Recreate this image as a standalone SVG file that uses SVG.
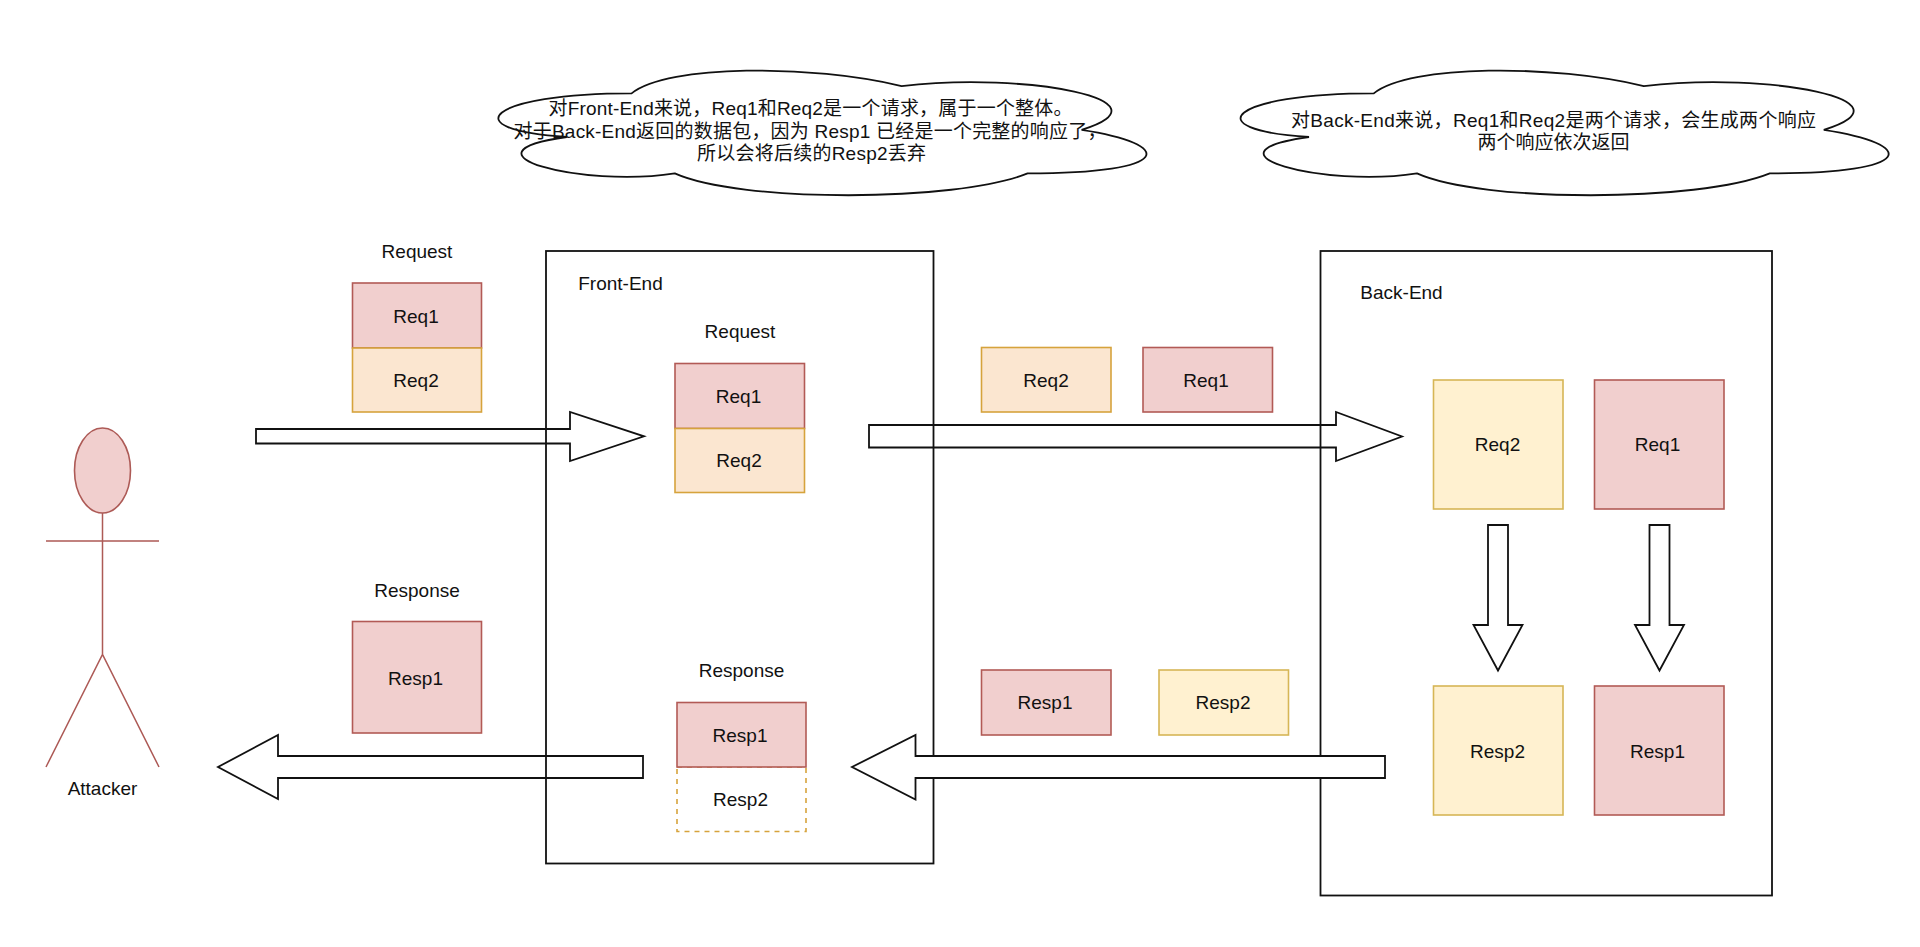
<svg xmlns="http://www.w3.org/2000/svg" width="1920" height="947" viewBox="0 0 1920 947">
<style>
text{font-family:"Liberation Sans","Noto Sans CJK SC",sans-serif;font-size:19px;fill:#111;text-anchor:middle}
.box{fill:none;stroke:#111;stroke-width:1.8}
.cloud{fill:#fff;stroke:#111;stroke-width:1.8}
.red{fill:#f1cfce;stroke:#b25a56;stroke-width:1.6}
.org{fill:#fbe6d0;stroke:#d6a33c;stroke-width:1.6}
.yel{fill:#fff1d0;stroke:#d6b656;stroke-width:1.6}
.dash{fill:#fff;stroke:#d6a33c;stroke-width:1.6;stroke-dasharray:5 5}
.ar{fill:none;stroke:#111;stroke-width:1.8}
.arw{fill:#fff;stroke:#111;stroke-width:1.8}
.act{fill:none;stroke:#ad5a56;stroke-width:1.5}
</style>
<rect width="1920" height="947" fill="#fff"/>
<g id="cloud-front">
<path class="cloud" d="M631.6 93.4C487.6 93.4 451.6 129.8 566.8 137C451.6 153 581.2 188 674.8 173.4C739.6 202.5 955.6 202.5 1027.6 173.4C1175.6 173.4 1175.6 144.3 1081.6 129.8C1176 100.6 1027.6 71.6 901.6 86.1C811.6 64.3 667.6 64.3 631.6 93.4Z"/>
<text x="810.5" y="115" textLength="524" lengthAdjust="spacing">对Front-End来说，Req1和Req2是一个请求，属于一个整体。</text>
<text x="810" y="137.5" textLength="593" lengthAdjust="spacing">对于Back-End返回的数据包，因为 Resp1 已经是一个完整的响应了，</text>
<text x="811.5" y="160" textLength="229" lengthAdjust="spacing">所以会将后续的Resp2丢弃</text>
</g>
<g id="cloud-back">
<path class="cloud" d="M1373.8 93.4C1229.8 93.4 1193.8 129.8 1309 137C1193.8 153 1323.4 188 1417 173.4C1481.8 202.5 1697.8 202.5 1769.8 173.4C1917.8 173.4 1917.8 144.3 1823.8 129.8C1918.2 100.6 1769.8 71.6 1643.8 86.1C1553.8 64.3 1409.8 64.3 1373.8 93.4Z"/>
<text x="1553.5" y="126.5" textLength="525" lengthAdjust="spacing">对Back-End来说，Req1和Req2是两个请求，会生成两个响应</text>
<text x="1553.5" y="148.5">两个响应依次返回</text>
</g>
<g id="attacker">
<ellipse cx="102.5" cy="470.5" rx="28" ry="42.5" fill="#f1cfce" stroke="#ad5a56" stroke-width="1.6"/>
<path class="act" d="M102.5 513V654.5M46 541H159M46 767L102.5 654.5L159 767"/>
<text x="102.5" y="795">Attacker</text>
</g>
<g id="request-left">
<text x="417" y="258">Request</text>
<rect class="red" x="352.5" y="283" width="129" height="65"/>
<text x="416" y="322.5">Req1</text>
<rect class="org" x="352.5" y="348" width="129" height="64"/>
<text x="416" y="387">Req2</text>
</g>
<g id="response-left">
<text x="417" y="597">Response</text>
<rect class="red" x="352.5" y="621.5" width="129" height="111.5"/>
<text x="415.5" y="685">Resp1</text>
</g>
<g id="front-end">
<rect class="box" x="546" y="251" width="387.5" height="612.5"/>
<text x="620.5" y="289.5">Front-End</text>
<text x="740" y="338">Request</text>
<rect class="red" x="675" y="363.5" width="129.5" height="65"/>
<text x="738.5" y="402.5">Req1</text>
<rect class="org" x="675" y="428.5" width="129.5" height="64"/>
<text x="739" y="466.5">Req2</text>
<text x="741.5" y="676.5">Response</text>
<rect class="dash" x="677" y="767" width="129" height="64.5"/>
<rect class="red" x="677" y="702.5" width="129" height="64.5"/>
<text x="740" y="741.5">Resp1</text>
<text x="740.5" y="806">Resp2</text>
</g>
<g id="in-transit">
<rect class="org" x="981.5" y="347.5" width="129.5" height="64.5"/>
<text x="1046" y="386.5">Req2</text>
<rect class="red" x="1143" y="347.5" width="129.5" height="64.5"/>
<text x="1206" y="386.5">Req1</text>
<rect class="red" x="981.5" y="670" width="129.5" height="65"/>
<text x="1045" y="709">Resp1</text>
<rect class="yel" x="1159" y="670" width="129.5" height="65"/>
<text x="1223" y="709">Resp2</text>
</g>
<g id="back-end">
<rect class="box" x="1320.5" y="251" width="451.5" height="644.5"/>
<text x="1401.5" y="298.5">Back-End</text>
<rect class="yel" x="1433.5" y="380" width="129.5" height="129"/>
<text x="1497.5" y="451">Req2</text>
<rect class="red" x="1594.5" y="380" width="129.5" height="129"/>
<text x="1657.5" y="451">Req1</text>
<rect class="yel" x="1433.5" y="686" width="129.5" height="129"/>
<text x="1497.5" y="757.5">Resp2</text>
<rect class="red" x="1594.5" y="686" width="129.5" height="129"/>
<text x="1657.5" y="757.5">Resp1</text>
</g>
<g id="connectors">
<polygon class="ar" points="256,429 570,429 570,412 644,436.3 570,461 570,443.5 256,443.5"/>
<polygon class="ar" points="869,425 1336,425 1336,412 1402,436.5 1336,461 1336,447.5 869,447.5"/>
<polygon class="ar" points="643,756 278,756 278,735 218,767 278,799 278,778 643,778"/>
<polygon class="arw" points="1385,756 915.5,756 915.5,735 852,767 915.5,799.5 915.5,778 1385,778"/>
<polygon class="ar" points="1488,525 1508,525 1508,625 1522.5,625 1498,670.5 1473.5,625 1488,625"/>
<polygon class="ar" points="1649.5,525 1669.5,525 1669.5,625 1684,625 1659.5,670.5 1635,625 1649.5,625"/>
</g>
</svg>
